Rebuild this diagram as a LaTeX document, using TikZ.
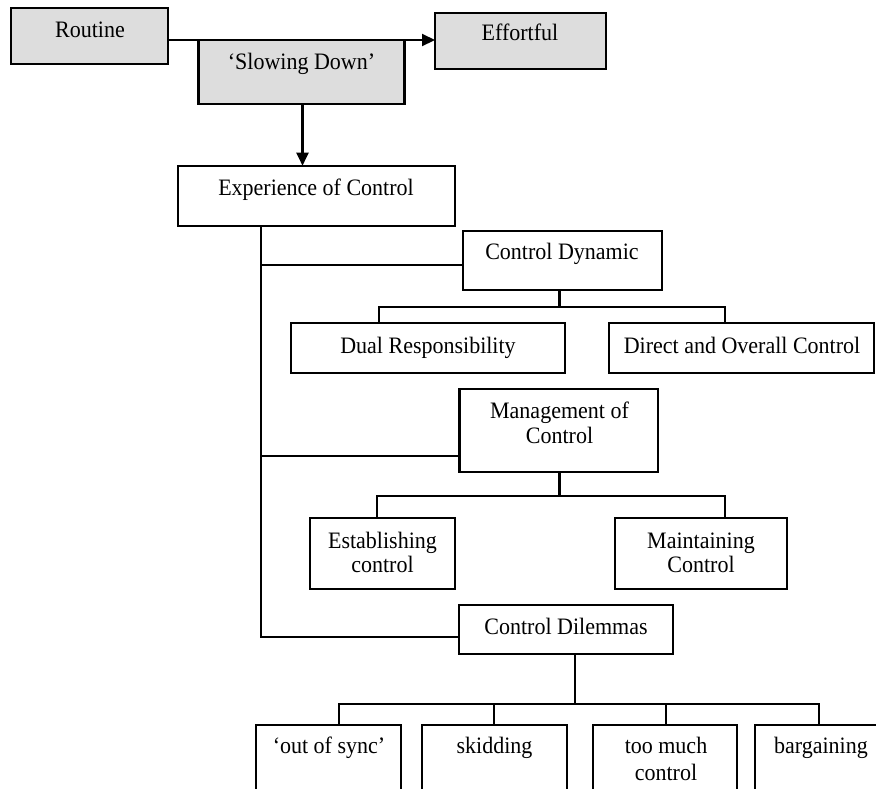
\documentclass[tikz,border=0pt]{standalone}
\usepackage{fontspec}
\setmainfont{Liberation Serif}
\usetikzlibrary{arrows.meta}
\definecolor{boxgray}{RGB}{221,221,221}
\newcommand{\Tx}[1]{\scalebox{1}[1.07]{#1}}
\tikzset{
  x=1pt, y=-1pt,
  conn/.style={line width=2.1pt, black},
  wbox/.style={draw, line width=2.1pt},
  gbox/.style={draw, line width=2.1pt, fill=boxgray},
  lbl/.style={anchor=base, font=\fontsize{22}{26}\selectfont, inner sep=0pt},
  arr/.style={line width=2.1pt, -{Triangle[length=13pt,width=12pt]}},
}
\begin{document}
\begin{tikzpicture}
\useasboundingbox (0,0) rectangle (876,788);
\clip (0,0) rectangle (876,788);

% top row
\draw[gbox] (11,8.3) rectangle (167.7,64);
\coordinate (routineR) at (167.7,40);
\node[lbl] (routine) at (90,37) {\Tx{Routine}};
\draw[gbox] (435,12.7) rectangle (606,69);
\coordinate (effortL) at (435,40);
\node[lbl] (effort) at (520,40.5) {\Tx{Effortful}};
\draw[arr] (routineR) -- (effortL);
\draw[gbox] (198.5,40) rectangle (404.5,104);
\node[lbl] (slow) at (301.5,69) {\Tx{‘Slowing Down’}};
\coordinate (slowB) at (302.5,104);

% Experience
\draw[wbox] (178,165.7) rectangle (455,226);
\coordinate (expT) at (302.5,165.7);
\node[lbl] (exp) at (316,195) {\Tx{Experience of Control}};
\draw[arr] (slowB) -- (expT);

% trunk
\coordinate (trunkTop) at (261.4,226);
\coordinate (trunkBot) at (261.4,637.3);

% Control Dynamic
\draw[wbox] (462.7,230.7) rectangle (662,290.3);
\node[lbl] (cdyn) at (562,259.5) {\Tx{Control Dynamic}};
\coordinate (cdynL) at (462.7,265);
\coordinate (cdynB) at (559.5,290.3);
\coordinate (cdynBar) at (559.5,307.3);
\draw[wbox] (290.7,323.3) rectangle (565.3,373.3);
\node[lbl] (dual) at (428,353) {\Tx{Dual Responsibility}};
\draw[wbox] (609,323.3) rectangle (874.3,373.3);
\node[lbl] (direct) at (742,353) {\Tx{Direct and Overall Control}};
\coordinate (dualT) at (379,323.3);
\coordinate (directT) at (725,323.3);

% Management of Control
\draw[wbox] (459.5,389.3) rectangle (657.6,472);
\node[lbl] (mgmt1) at (559.5,418) {\Tx{Management of}};
\node[lbl] (mgmt2) at (559.5,443.7) {\Tx{Control}};
\coordinate (mgmtL) at (459.5,455.7);
\coordinate (mgmtB) at (559.5,472);
\coordinate (mgmtBar) at (559.5,495.7);
\draw[wbox] (310,518.3) rectangle (454.6,588.7);
\node[lbl] (est1) at (382.5,548) {\Tx{Establishing}};
\node[lbl] (est2) at (382.5,572) {\Tx{control}};
\draw[wbox] (614.8,518.3) rectangle (787.3,588.7);
\node[lbl] (mnt1) at (701,548) {\Tx{Maintaining}};
\node[lbl] (mnt2) at (701,572) {\Tx{Control}};
\coordinate (estT) at (376.7,518.3);
\coordinate (mntT) at (725,518.3);

% Control Dilemmas
\draw[wbox] (459,604.7) rectangle (673.3,654.3);
\node[lbl] (dil) at (566,634) {\Tx{Control Dilemmas}};
\coordinate (dilL) at (459,637.3);
\coordinate (dilB) at (575,654.3);
\coordinate (dilBar) at (575,704.3);

% bottom boxes (cut off by the page)
\draw[wbox] (256.2,725) rectangle (401,840);
\node[lbl] (oos) at (329,753.5) {\Tx{‘out of sync’}};
\draw[wbox] (422,725) rectangle (567,840);
\node[lbl] (skid) at (494.5,753.5) {\Tx{skidding}};
\draw[wbox] (593,725) rectangle (737.4,840);
\node[lbl] (tmc1) at (666,753.5) {\Tx{too much}};
\node[lbl] (tmc2) at (666,780) {\Tx{control}};
\draw[wbox] (755,725) rectangle (890,840);
\node[lbl] (barg) at (821,753.5) {\Tx{bargaining}};
\coordinate (oosT) at (339.4,725);
\coordinate (skidT) at (494.4,725);
\coordinate (tmcT) at (666,725);
\coordinate (bargT) at (819,725);

% connectors
\draw[conn] (trunkTop) -- (trunkBot) -- (dilL);
\draw[conn] (trunkTop |- cdynL) -- (cdynL);
\draw[conn] (trunkTop |- mgmtL) -- (mgmtL);
\draw[conn] (cdynB) -- (cdynBar);
\draw[conn] (dualT) -- (dualT |- cdynBar) -- (directT |- cdynBar) -- (directT);
\draw[conn] (mgmtB) -- (mgmtBar);
\draw[conn] (estT) -- (estT |- mgmtBar) -- (mntT |- mgmtBar) -- (mntT);
\draw[conn] (dilB) -- (dilBar);
\draw[conn] (oosT) -- (oosT |- dilBar) -- (bargT |- dilBar) -- (bargT);
\draw[conn] (skidT |- dilBar) -- (skidT);
\draw[conn] (tmcT |- dilBar) -- (tmcT);
\end{tikzpicture}
\end{document}
